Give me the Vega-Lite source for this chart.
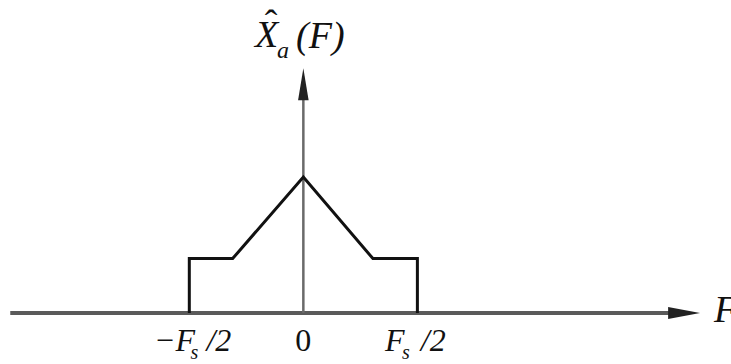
{
  "$schema": "https://vega.github.io/schema/vega-lite/v6.json",
  "width": 731,
  "height": 364,
  "autosize": {"type": "none"},
  "padding": 0,
  "background": "white",
  "config": {"view": {"stroke": null}},
  "datasets": {
    "spectrum": [
      {"x": -1, "y": 0, "i": 0},
      {"x": -1, "y": 0.4, "i": 1},
      {"x": -0.62, "y": 0.4, "i": 2},
      {"x": 0, "y": 1, "i": 3},
      {"x": 0.61, "y": 0.4, "i": 4},
      {"x": 1, "y": 0.4, "i": 5},
      {"x": 1, "y": 0, "i": 6}
    ],
    "axes": [
      {"axis": "F", "x": -2.57, "x2": 3.3, "y": 0, "y2": 0},
      {"axis": "X", "x": 0, "x2": 0, "y": 0, "y2": 1.58}
    ],
    "heads": [
      {"axis": "F", "x": 3.479, "y": 0},
      {"axis": "X", "x": 0, "y": 1.8}
    ],
    "labels": [
      {"kind": "num", "x": 0, "y": -0.28, "text": "0"},
      {"kind": "tickR", "x": -0.95, "y": -0.28, "text": "−F"},
      {"kind": "tickL", "x": 0.717, "y": -0.28, "text": "F"},
      {"kind": "tickL", "x": -0.85, "y": -0.28, "text": "/2"},
      {"kind": "tickL", "x": 1.03, "y": -0.28, "text": "/2"},
      {"kind": "sub", "x": -0.99, "y": -0.34, "text": "s"},
      {"kind": "sub", "x": 0.865, "y": -0.34, "text": "s"},
      {"kind": "title", "x": -0.424, "y": 1.956, "text": "X"},
      {"kind": "title", "x": -0.064, "y": 1.949, "text": "(F)"},
      {"kind": "title", "x": 3.6, "y": -0.066, "text": "F"},
      {"kind": "hat", "x": -0.283, "y": 2.037, "text": "ˆ"},
      {"kind": "subT", "x": -0.231, "y": 1.875, "text": "a"}
    ]
  },
  "encoding": {
    "x": {"field": "x", "type": "quantitative", "axis": null, "scale": {"domain": [-2.66, 3.75], "nice": false, "zero": false}},
    "y": {"field": "y", "type": "quantitative", "axis": null, "scale": {"domain": [-0.375, 2.301], "nice": false, "zero": false}}
  },
  "layer": [
    {
      "data": {"name": "axes"},
      "transform": [{"filter": "datum.axis === 'F'"}],
      "mark": {"type": "rule", "color": "#5a5a5a", "strokeWidth": 4},
      "encoding": {"x2": {"field": "x2"}, "y2": {"field": "y2"}}
    },
    {
      "data": {"name": "axes"},
      "transform": [{"filter": "datum.axis === 'X'"}],
      "mark": {"type": "rule", "color": "#6a6a6a", "strokeWidth": 2.5},
      "encoding": {"x2": {"field": "x2"}, "y2": {"field": "y2"}}
    },
    {
      "data": {"name": "heads"},
      "transform": [{"filter": "datum.axis === 'F'"}],
      "mark": {"type": "point", "shape": "M0,0 L-2,-0.38 L-2,0.38 Z", "size": 1024, "filled": true, "color": "#222", "opacity": 1, "strokeWidth": 0}
    },
    {
      "data": {"name": "heads"},
      "transform": [{"filter": "datum.axis === 'X'"}],
      "mark": {"type": "point", "shape": "M0,0 L-0.33,2 L0.33,2 Z", "size": 1024, "filled": true, "color": "#222", "opacity": 1, "strokeWidth": 0}
    },
    {
      "data": {"name": "spectrum"},
      "mark": {"type": "line", "color": "#111", "strokeWidth": 3, "strokeJoin": "miter"},
      "encoding": {"order": {"field": "i", "type": "quantitative"}}
    },
    {
      "data": {"name": "labels"},
      "transform": [{"filter": "datum.kind === 'num'"}],
      "mark": {"type": "text", "font": "Liberation Serif", "fontSize": 32, "align": "center", "baseline": "alphabetic", "color": "#111"},
      "encoding": {"text": {"field": "text"}}
    },
    {
      "data": {"name": "labels"},
      "transform": [{"filter": "datum.kind === 'tickR'"}],
      "mark": {"type": "text", "font": "Liberation Serif", "fontStyle": "italic", "fontSize": 32, "align": "right", "baseline": "alphabetic", "color": "#111"},
      "encoding": {"text": {"field": "text"}}
    },
    {
      "data": {"name": "labels"},
      "transform": [{"filter": "datum.kind === 'tickL'"}],
      "mark": {"type": "text", "font": "Liberation Serif", "fontStyle": "italic", "fontSize": 32, "align": "left", "baseline": "alphabetic", "color": "#111"},
      "encoding": {"text": {"field": "text"}}
    },
    {
      "data": {"name": "labels"},
      "transform": [{"filter": "datum.kind === 'sub'"}],
      "mark": {"type": "text", "font": "Liberation Serif", "fontStyle": "italic", "fontSize": 20, "align": "left", "baseline": "alphabetic", "color": "#111"},
      "encoding": {"text": {"field": "text"}}
    },
    {
      "data": {"name": "labels"},
      "transform": [{"filter": "datum.kind === 'title'"}],
      "mark": {"type": "text", "font": "Liberation Serif", "fontStyle": "italic", "fontSize": 38, "align": "left", "baseline": "alphabetic", "color": "#111"},
      "encoding": {"text": {"field": "text"}}
    },
    {
      "data": {"name": "labels"},
      "transform": [{"filter": "datum.kind === 'hat'"}],
      "mark": {"type": "text", "font": "Liberation Serif", "fontSize": 38, "align": "center", "baseline": "alphabetic", "color": "#111"},
      "encoding": {"text": {"field": "text"}}
    },
    {
      "data": {"name": "labels"},
      "transform": [{"filter": "datum.kind === 'subT'"}],
      "mark": {"type": "text", "font": "Liberation Serif", "fontStyle": "italic", "fontSize": 24, "align": "left", "baseline": "alphabetic", "color": "#111"},
      "encoding": {"text": {"field": "text"}}
    }
  ]
}
